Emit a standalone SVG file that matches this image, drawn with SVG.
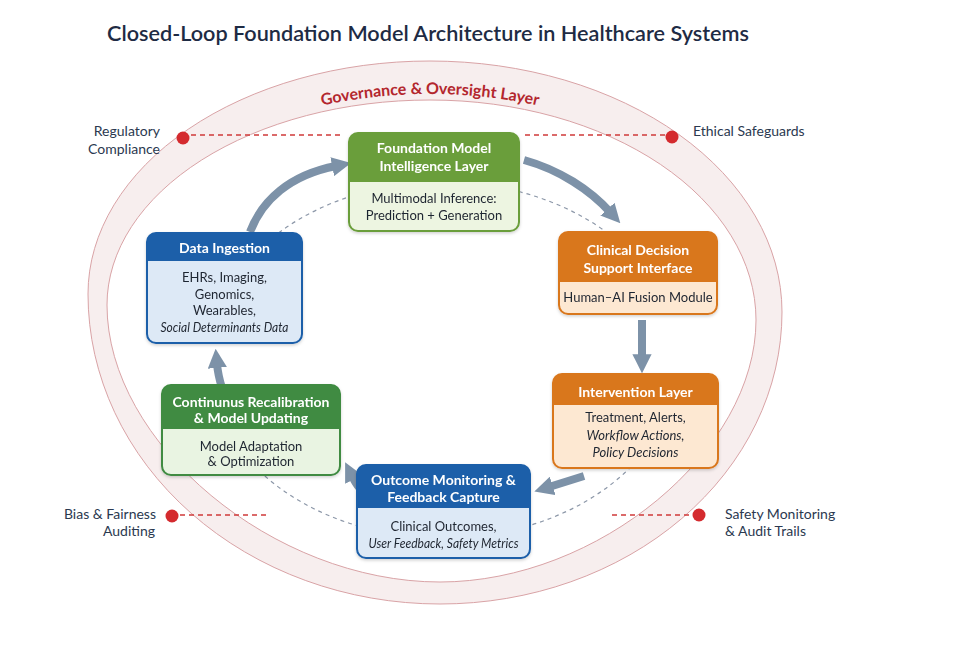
<svg xmlns="http://www.w3.org/2000/svg" width="975" height="650" viewBox="0 0 975 650">
<style>
  .title{font-family:Lato,"Liberation Sans",sans-serif;font-size:21px;font-weight:600;fill:#1e2b44}
  .gov{font-family:Lato,"Liberation Sans",sans-serif;font-size:16px;font-weight:700;fill:#b3262d}
  .side{font-family:Lato,"Liberation Sans",sans-serif;font-size:14px;fill:#2b3950}
  .nt{font-family:Lato,"Liberation Sans",sans-serif;font-size:14px;font-weight:700;fill:#ffffff;text-anchor:middle}
  .nb{font-family:Lato,"Liberation Sans",sans-serif;font-size:13px;fill:#1f2530;text-anchor:middle}
  .it{font-style:italic}
  .reddash{stroke:#d03a3a;stroke-width:1.6;stroke-dasharray:5 4;fill:none}
  .dot{fill:#d42a2e}
  .loop{stroke:#8c97a8;stroke-width:1.2;stroke-dasharray:4 4;fill:none}
  .arrow{stroke:#7d92a8;stroke-width:8;fill:none;stroke-linecap:butt}
</style>
<defs>
  <marker id="ah" viewBox="0 0 10 10" refX="2" refY="5" markerWidth="2.4" markerHeight="2.4" orient="auto" markerUnits="strokeWidth">
    <path d="M0,0 L10,5 L0,10 z" fill="#7d92a8"/>
  </marker>
  <filter id="sh" x="-10%" y="-10%" width="120%" height="130%">
    <feDropShadow dx="0" dy="1.5" stdDeviation="1.5" flood-color="#000" flood-opacity="0.18"/>
  </filter>
  <path id="govpath" d="M 96 310 A 334 216 0 0 1 764 310"/>
</defs>
<rect width="975" height="650" fill="#ffffff"/>
<text class="title" x="107" y="41" textLength="642" lengthAdjust="spacingAndGlyphs">Closed-Loop Foundation Model Architecture in Healthcare Systems</text>

<g id="governance-ring">
  <path fill="#f7eeee" fill-rule="evenodd" stroke="#d9a3a6" stroke-width="1"
    d="M 88 294 A 342 233 0 0 1 430 61 A 352 251 0 0 1 782 312 A 342 292 0 0 1 440 604 A 352 310 0 0 1 88 294 Z M 107 305 A 323 205 0 0 1 430 100 A 326 220 0 0 1 756 320 C 756 451, 598 582, 440 582 C 273.5 582, 107 443.5, 107 305 Z"/>
  <text class="gov"><textPath href="#govpath" startOffset="50%" text-anchor="middle">Governance &amp; Oversight Layer</textPath></text>
</g>

<g id="loop-path">
  <path class="loop" d="M 222.2 299.1 A 235 178 0 0 1 422.5 182.7"/>
  <path class="loop" d="M 463.5 182.7 A 235 178 0 0 1 663.8 299.1"/>
  <path class="loop" d="M 663.8 420.9 A 235 178 0 0 1 463.5 537.3"/>
  <path class="loop" d="M 422.5 537.3 A 235 178 0 0 1 222.2 420.9"/>
</g>

<g id="regulatory-compliance">
  <line class="reddash" x1="191" y1="135" x2="342" y2="135"/>
  <circle class="dot" cx="183" cy="138" r="6.5"/>
  <text class="side" text-anchor="end" x="160" y="136">Regulatory</text>
  <text class="side" text-anchor="end" x="160" y="154">Compliance</text>
</g>
<g id="ethical-safeguards">
  <line class="reddash" x1="525" y1="135" x2="665" y2="135"/>
  <circle class="dot" cx="672" cy="137" r="6.5"/>
  <text class="side" x="693" y="136">Ethical Safeguards</text>
</g>
<g id="bias-fairness">
  <line class="reddash" x1="180" y1="515" x2="267" y2="515"/>
  <circle class="dot" cx="172" cy="516" r="6.5"/>
  <text class="side" text-anchor="end" x="156" y="519">Bias &amp; Fairness</text>
  <text class="side" text-anchor="end" x="155" y="536">Auditing</text>
</g>
<g id="safety-monitoring">
  <line class="reddash" x1="612" y1="515" x2="692" y2="515"/>
  <circle class="dot" cx="699" cy="515" r="6.5"/>
  <text class="side" x="725" y="519">Safety Monitoring</text>
  <text class="side" x="725" y="536">&amp; Audit Trails</text>
</g>

<g id="connectors">
  <path class="arrow" marker-end="url(#ah)" d="M 250 232 C 262 200, 290 175, 336 166"/>
  <path class="arrow" marker-end="url(#ah)" d="M 524 160 C 560 170, 590 190, 610 212"/>
  <path class="arrow" marker-end="url(#ah)" d="M 642 320 L 642 358"/>
  <path class="arrow" marker-end="url(#ah)" d="M 584 476 Q 565 482 549 487"/>
  <path class="arrow" marker-end="url(#ah)" d="M 372 494 C 360 492, 356 484, 352 476"/>
  <path class="arrow" marker-end="url(#ah)" d="M 222 388 Q 218 375 217 364"/>
</g>

<g id="foundation-model" filter="url(#sh)">
  <rect x="349" y="133" width="170" height="98" rx="9" fill="#edf5e1" stroke="#6b9e3b" stroke-width="2"/>
  <path d="M 349 182 V 142 A 9 9 0 0 1 358 133 H 510 A 9 9 0 0 1 519 142 V 182 Z" fill="#6b9e3b"/>
  <text class="nt" x="434" y="153">Foundation Model</text>
  <text class="nt" x="434" y="171">Intelligence Layer</text>
  <text class="nb" x="434" y="203">Multimodal Inference:</text>
  <text class="nb" x="434" y="220">Prediction + Generation</text>
</g>

<g id="data-ingestion" filter="url(#sh)">
  <rect x="147" y="233" width="155" height="110" rx="9" fill="#dde9f6" stroke="#1c5fa9" stroke-width="2"/>
  <path d="M 147 261 V 242 A 9 9 0 0 1 156 233 H 293 A 9 9 0 0 1 302 242 V 261 Z" fill="#1c5fa9"/>
  <text class="nt" x="224.5" y="253">Data Ingestion</text>
  <text class="nb" x="224.5" y="282">EHRs, Imaging,</text>
  <text class="nb" x="224.5" y="299">Genomics,</text>
  <text class="nb" x="224.5" y="315">Wearables,</text>
  <text class="nb it" x="224.5" y="332" textLength="128" lengthAdjust="spacingAndGlyphs">Social Determinants Data</text>
</g>

<g id="clinical-decision-support" filter="url(#sh)">
  <rect x="559" y="232" width="158" height="82" rx="9" fill="#fde8d2" stroke="#d9771f" stroke-width="2"/>
  <path d="M 559 282 V 241 A 9 9 0 0 1 568 232 H 708 A 9 9 0 0 1 717 241 V 282 Z" fill="#d9771f"/>
  <text class="nt" x="638" y="255">Clinical Decision</text>
  <text class="nt" x="638" y="273">Support Interface</text>
  <text class="nb" x="638" y="302">Human–AI Fusion Module</text>
</g>

<g id="intervention-layer" filter="url(#sh)">
  <rect x="553" y="374" width="165" height="94" rx="9" fill="#fde8d2" stroke="#d9771f" stroke-width="2"/>
  <path d="M 553 405 V 383 A 9 9 0 0 1 562 374 H 709 A 9 9 0 0 1 718 383 V 405 Z" fill="#d9771f"/>
  <text class="nt" x="635.5" y="397">Intervention Layer</text>
  <text class="nb" x="635.5" y="422">Treatment, Alerts,</text>
  <text class="nb it" x="635.5" y="440">Workflow Actions,</text>
  <text class="nb it" x="635.5" y="457">Policy Decisions</text>
</g>

<g id="continuous-recalibration" filter="url(#sh)">
  <rect x="162" y="385" width="178" height="90" rx="9" fill="#e9f4e2" stroke="#3f8b42" stroke-width="2"/>
  <path d="M 162 429 V 394 A 9 9 0 0 1 171 385 H 331 A 9 9 0 0 1 340 394 V 429 Z" fill="#3f8b42"/>
  <text class="nt" x="251" y="407">Continunus Recalibration</text>
  <text class="nt" x="251" y="423">&amp; Model Updating</text>
  <text class="nb" x="251" y="451">Model Adaptation</text>
  <text class="nb" x="251" y="466">&amp; Optimization</text>
</g>

<g id="outcome-monitoring" filter="url(#sh)">
  <rect x="357" y="465" width="173" height="93" rx="9" fill="#dde9f6" stroke="#1c5fa9" stroke-width="2"/>
  <path d="M 357 508 V 474 A 9 9 0 0 1 366 465 H 521 A 9 9 0 0 1 530 474 V 508 Z" fill="#1c5fa9"/>
  <text class="nt" x="443.5" y="485">Outcome Monitoring &amp;</text>
  <text class="nt" x="443.5" y="502">Feedback Capture</text>
  <text class="nb" x="443.5" y="531">Clinical Outcomes,</text>
  <text class="nb it" x="443.5" y="548" textLength="150" lengthAdjust="spacingAndGlyphs">User Feedback, Safety Metrics</text>
</g>
</svg>
